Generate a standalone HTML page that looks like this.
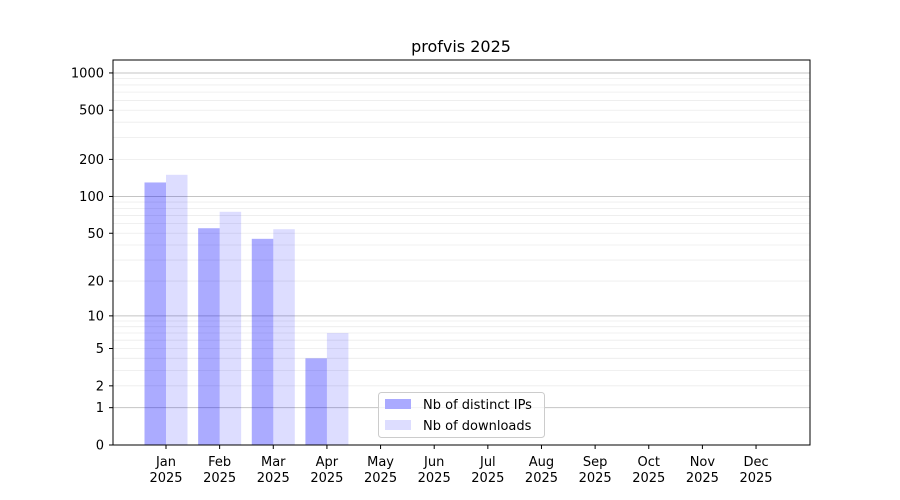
<!DOCTYPE html>
<html><head><meta charset="utf-8"><style>body{margin:0;background:#fff}svg{display:block;font-family:"DejaVu Sans","Liberation Sans",sans-serif}</style></head>
<body>
<svg id="s" width="900" height="500" xmlns="http://www.w3.org/2000/svg">
<rect width="900" height="500" fill="#fff"/>
<g id="grid"></g>
<g id="bars"></g>
<rect x="113" y="60" width="697" height="385" fill="none" stroke="#000" stroke-width="1"/>
<g id="ticks" font-size="13" fill="#000"></g>
<text x="461" y="52" font-size="16" text-anchor="middle">profvis 2025</text>
<g>
<rect x="378.5" y="392.5" width="166" height="45" rx="3" fill="#fff" fill-opacity="0.8" stroke="#ccc"/>
<rect x="385" y="399" width="26" height="10" fill="#aaaaff"/>
<rect x="385" y="420" width="26" height="10" fill="#ddddff"/>
<text x="423" y="409" font-size="13">Nb of distinct IPs</text>
<text x="423" y="430" font-size="13">Nb of downloads</text>
</g>
</svg>
<script>
const NS="http://www.w3.org/2000/svg";
function Y(v){return 445-124*Math.log10(1+v);}
function el(p,t,a,txt){const e=document.createElementNS(NS,t);for(const k in a)e.setAttribute(k,a[k]);if(txt!==undefined)e.textContent=txt;document.getElementById(p).appendChild(e);return e;}
[1,10,100,1000].forEach(d=>{for(let m=1;m<10;m++){const v=d*m;const y=Y(v);if(y<60)break;
el("grid","line",{x1:113,x2:810,y1:y,y2:y,stroke:m==1?"#c4c4c4":"#ececec","stroke-width":m==1?1:0.8});}});
const ip=[130,55,45,4],dl=[150,75,54,7];
const x0=166,dx=53.64;
for(let i=0;i<4;i++){const c=x0+i*dx;
el("bars","rect",{x:c-21.5,y:Y(ip[i]),width:21.5,height:445-Y(ip[i]),fill:"#0000ff","fill-opacity":0.33});
el("bars","rect",{x:c,y:Y(dl[i]),width:21.5,height:445-Y(dl[i]),fill:"#0000ff","fill-opacity":0.135});}
[0,1,2,5,10,20,50,100,200,500,1000].forEach(v=>{const y=Y(v);
el("ticks","line",{x1:109,x2:113,y1:y,y2:y,stroke:"#000"});
el("ticks","text",{x:104,y:y+4.5,"text-anchor":"end"},String(v));});
const mo=["Jan","Feb","Mar","Apr","May","Jun","Jul","Aug","Sep","Oct","Nov","Dec"];
mo.forEach((m,i)=>{const x=x0+i*dx;
el("ticks","line",{x1:x,x2:x,y1:445,y2:449,stroke:"#000"});
el("ticks","text",{x:x,y:466,"text-anchor":"middle"},m);
el("ticks","text",{x:x,y:482,"text-anchor":"middle"},"2025");});
</script>
</body></html>
